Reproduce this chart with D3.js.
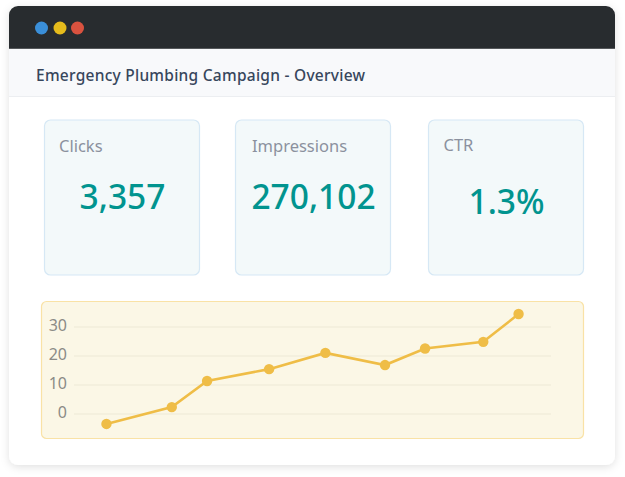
<!DOCTYPE html>
<html><head><meta charset="utf-8">
<script src="https://cdn.jsdelivr.net/npm/d3@7"></script>
<style>html,body{margin:0;padding:0;background:#fff;overflow:hidden}svg{display:block}text{font-family:"Noto Sans",sans-serif}</style>
</head><body><svg id="c" width="625" height="477"></svg>
<script>
const title = "Emergency Plumbing Campaign - Overview";
const cardLabels = ["Clicks","Impressions","CTR"];
const cardValues = ["3,357","270,102","1.3%"];
const dotColors = ["#3a8fd9","#e6bc1c","#d9523f"];
const seriesX = [6.8,20.5,27.9,40.9,52.7,65.2,73.6,85.8,93.2];
const seriesY = [-3.6,2.2,11.2,15.3,20.9,16.7,22.4,24.7,34.3];
const yTicks = [0,10,20,30];

const svg = d3.select("#c");
const defs = svg.append("defs");
const f = defs.append("filter").attr("id","sh").attr("x","-10%").attr("y","-10%").attr("width","120%").attr("height","120%");
f.append("feDropShadow").attr("dx",0).attr("dy",2).attr("stdDeviation",4).attr("flood-color","#000").attr("flood-opacity",0.12);
defs.append("clipPath").attr("id","win").append("rect").attr("x",9).attr("y",6).attr("width",606).attr("height",459).attr("rx",9);

svg.append("rect").attr("x",9).attr("y",6).attr("width",606).attr("height",459).attr("rx",9).attr("fill","#fff").attr("filter","url(#sh)");
const win = svg.append("g").attr("clip-path","url(#win)");
win.append("rect").attr("x",9).attr("y",6).attr("width",606).attr("height",42).attr("fill","#282c2f");
win.append("rect").attr("x",9).attr("y",48).attr("width",606).attr("height",1).attr("fill","#55585b");
win.append("rect").attr("x",9).attr("y",49).attr("width",606).attr("height",47).attr("fill","#f8f9fb");
win.append("rect").attr("x",9).attr("y",96).attr("width",606).attr("height",1).attr("fill","#eceef1");

svg.selectAll("circle.dot").data(dotColors).join("circle").attr("class","dot")
  .attr("cx",(d,i)=>[41.5,60,77.5][i]).attr("cy",28).attr("r",6.5).attr("fill",d=>d);

svg.append("text").attr("x",36).attr("y",81).attr("font-size",15.5).attr("font-weight",500).attr("fill","#37465c").attr("textLength",329).text(title);

const cardX = [44.5,235.5,428.5], cardLX=[59,252,443.5], cardVY=[209,209,214], cardLY=[152,152,151];
const cards = svg.selectAll("g.card").data(cardLabels).join("g").attr("class","card");
cards.append("rect").attr("x",(d,i)=>cardX[i]).attr("y",120).attr("width",155).attr("height",155).attr("rx",6)
  .attr("fill","#f3f9fa").attr("stroke","#d6e8f5").attr("stroke-width",1.2);
cards.append("text").attr("x",(d,i)=>cardLX[i]).attr("y",(d,i)=>cardLY[i]).attr("font-size",16.5).attr("fill","#8b919e").text(d=>d);
cards.append("text").attr("x",(d,i)=>cardX[i]+78).attr("y",(d,i)=>cardVY[i]).attr("text-anchor","middle")
  .attr("font-size",33.5).attr("font-weight",500).attr("fill","#01948f").text((d,i)=>cardValues[i]);

svg.append("rect").attr("x",41.5).attr("y",301.5).attr("width",542).attr("height",137).attr("rx",5)
  .attr("fill","#fbf7e6").attr("stroke","#f9e2a6").attr("stroke-width",1.2);

const x = d3.scaleLinear().domain([0,100]).range([74,551]);
const y = d3.scaleLinear().domain([0,30]).range([413.5,326.5]);
const axis = svg.append("g").attr("transform","translate(74,0)")
  .call(d3.axisLeft(y).tickValues(yTicks).tickSize(-477).tickPadding(7));
axis.select(".domain").remove();
axis.selectAll("line").attr("stroke","#f2eedb").attr("stroke-width",1.4);
axis.selectAll("text").attr("font-size",16).attr("fill","#8b8b86").attr("font-family",'"Noto Sans",sans-serif').attr("dy","0.28em");

const pts = seriesX.map((v,i)=>[v,seriesY[i]]);
svg.append("path").datum(pts).attr("fill","none").attr("stroke","#efbd47").attr("stroke-width",2.6)
  .attr("d",d3.line().x(d=>x(d[0])).y(d=>y(d[1])));
svg.selectAll("circle.pt").data(pts).join("circle").attr("class","pt")
  .attr("cx",d=>x(d[0])).attr("cy",d=>y(d[1])).attr("r",5.2).attr("fill","#efbd47");
</script></body></html>
